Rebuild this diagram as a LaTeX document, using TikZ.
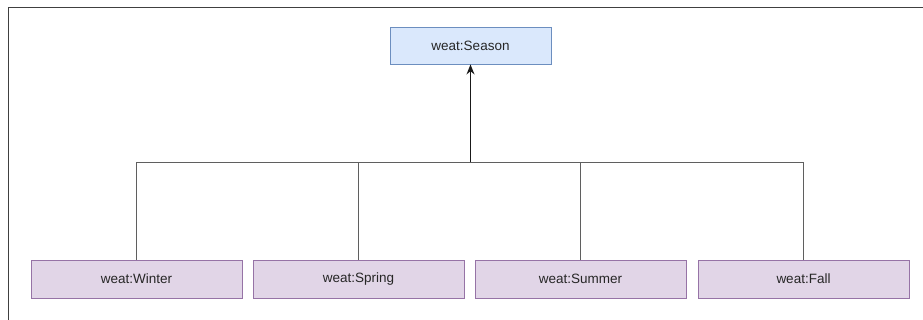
\documentclass[tikz,border=0pt]{standalone}
\usepackage{fontspec}
\setmainfont{Liberation Sans}
\usetikzlibrary{arrows.meta}
\definecolor{parentfill}{HTML}{DAE8FC}
\definecolor{parentdraw}{HTML}{6C8EBF}
\definecolor{childfill}{HTML}{E1D5E7}
\definecolor{childdraw}{HTML}{9673A6}
\definecolor{edgegray}{HTML}{5F5F5F}
\tikzset{
  parentbox/.style={draw=parentdraw, fill=parentfill, line width=0.9pt,
    minimum width=161pt, minimum height=37pt, inner sep=0pt,
    font=\fontsize{13.5}{15}\selectfont, text=black!85},
  childbox/.style={draw=childdraw, fill=childfill, line width=0.9pt,
    minimum width=211pt, minimum height=38pt, inner sep=0pt,
    font=\fontsize{13.5}{15}\selectfont, text=black!85},
  isa/.style={draw=edgegray, line width=1.3pt},
  frameline/.style={draw=black!75, line width=1.5pt}
}
\begin{document}
\begin{tikzpicture}[x=1pt,y=-1pt]
  \useasboundingbox (0,0) rectangle (923,320);
  % outer frame (top and left edges)
  \draw[frameline] (923,7.5) -- (8.5,7.5) -- (8.5,320);

  \node[parentbox] (season) at (470.5,45.5) {weat:Season};

  \node[childbox] (winter) at (136.5,279) {weat:Winter};
  \node[childbox] (spring) at (358.5,279) {weat:Spring};
  \node[childbox] (summer) at (580.5,279) {weat:Summer};
  \node[childbox] (fall)   at (803.5,279) {weat:Fall};

  \coordinate (join) at (470.5,162.5);
  \foreach \c in {winter,spring,summer,fall}
    \draw[isa] (\c.north) |- (join);
  \draw[isa, draw=black!90, -{Stealth[length=10pt,width=8pt]}] (join) -- (season.south);
\end{tikzpicture}
\end{document}
